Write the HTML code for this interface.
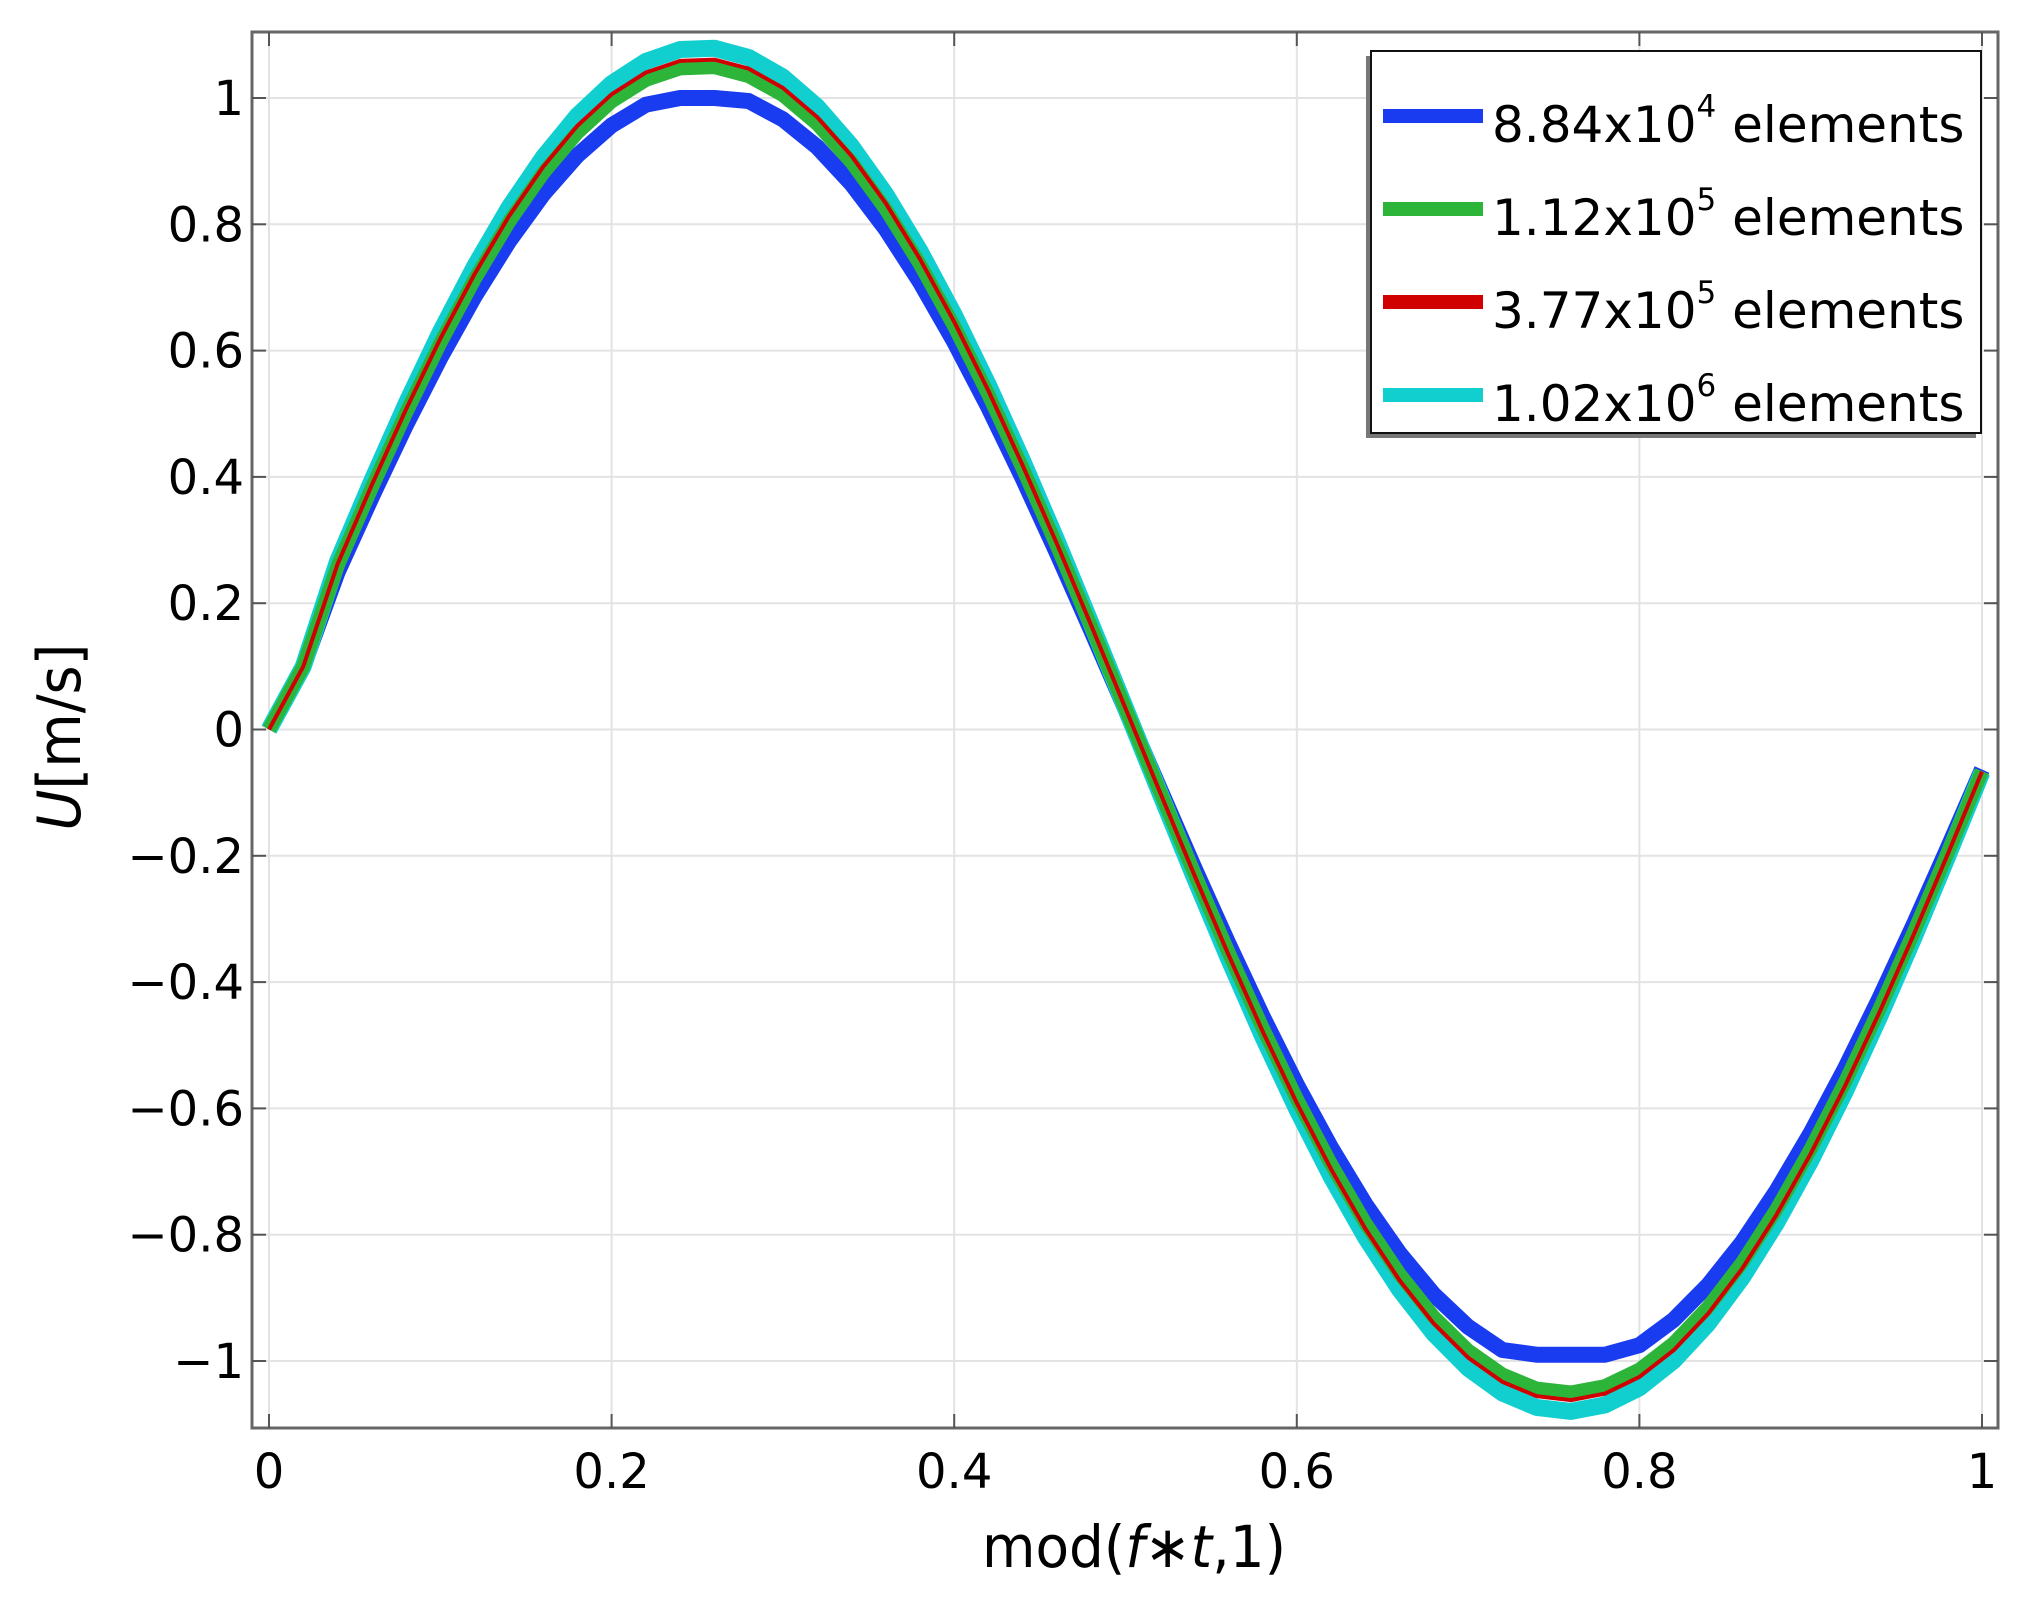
<!DOCTYPE html>
<html><head><meta charset="utf-8">
<style>
html,body{margin:0;padding:0;background:#fff;}
svg{display:block;font-family:"DejaVu Sans","Liberation Sans",sans-serif;}
</style></head>
<body>
<svg id="s" width="2038" height="1605" viewBox="0 0 2038 1605" xmlns="http://www.w3.org/2000/svg">
<rect width="2038" height="1605" fill="#fff"/>
<g id="grid" stroke="#e3e3e3" stroke-width="2"></g>
<g id="curves" fill="none" stroke-linejoin="round" stroke-linecap="butt"></g>
<rect x="252" y="32" width="1746" height="1396" fill="none" stroke="#666" stroke-width="3"/>
<g id="ticks" stroke="#555" stroke-width="2"></g>
<g id="labels" font-size="48" fill="#000"></g>
<text x="0" y="0" font-size="60" transform="translate(80,737) rotate(-90)" text-anchor="middle" textLength="187" lengthAdjust="spacingAndGlyphs"><tspan font-style="italic">U</tspan>[m/s]</text>
<text x="1134" y="1567" font-size="58" text-anchor="middle" textLength="304" lengthAdjust="spacingAndGlyphs">mod(<tspan font-style="italic">f</tspan>∗<tspan font-style="italic">t</tspan>,1)</text>
<!-- legend -->
<rect x="1366" y="56" width="610" height="382" fill="#777"/>
<rect x="1371" y="51" width="610" height="382" fill="#fff" stroke="#111" stroke-width="2"/>
<g stroke-width="14">
<line x1="1383" y1="116" x2="1483" y2="116" stroke="#1a3cf0"/>
<line x1="1383" y1="209" x2="1483" y2="209" stroke="#2db53a"/>
<line x1="1383" y1="302" x2="1483" y2="302" stroke="#d00000"/>
<line x1="1383" y1="395" x2="1483" y2="395" stroke="#12cfcf"/>
</g>
<g font-size="50" fill="#000">
<text x="1492" y="142">8.84x10<tspan font-size="31" dy="-25">4</tspan><tspan dy="25"> elements</tspan></text>
<text x="1492" y="235">1.12x10<tspan font-size="31" dy="-25">5</tspan><tspan dy="25"> elements</tspan></text>
<text x="1492" y="328">3.77x10<tspan font-size="31" dy="-25">5</tspan><tspan dy="25"> elements</tspan></text>
<text x="1492" y="421">1.02x10<tspan font-size="31" dy="-25">6</tspan><tspan dy="25"> elements</tspan></text>
</g>
</svg>
<script>
(function(){
var NS="http://www.w3.org/2000/svg";
function X(v){return 269+v*1713;}
function Y(v){return 729.5-631.5*v;}
function el(p,t,a,txt){var e=document.createElementNS(NS,t);for(var k in a)e.setAttribute(k,a[k]);if(txt!=null)e.textContent=txt;document.getElementById(p).appendChild(e);return e;}
var xs=[0,0.2,0.4,0.6,0.8,1],xl=["0","0.2","0.4","0.6","0.8","1"];
for(var i=0;i<xs.length;i++){
 el("grid","line",{x1:X(xs[i]),x2:X(xs[i]),y1:33,y2:1427});
 el("ticks","line",{x1:X(xs[i]),x2:X(xs[i]),y1:1428,y2:1414});
 el("ticks","line",{x1:X(xs[i]),x2:X(xs[i]),y1:32,y2:46});
 el("labels","text",{x:X(xs[i]),y:1488,"text-anchor":"middle"},xl[i]);
}
for(var k=-5;k<=5;k++){
 var v=k/5,y=Y(v);
 el("grid","line",{x1:253,x2:1997,y1:y,y2:y});
 el("ticks","line",{x1:252,x2:266,y1:y,y2:y});
 el("ticks","line",{x1:1998,x2:1984,y1:y,y2:y});
 var s=(v===0)?"0":(v<0?"−":"")+(Math.abs(v)===1?"1":Math.abs(v).toFixed(1));
 el("labels","text",{x:244,y:y+17,"text-anchor":"end"},s);
}
function path(A,lo,hi,col,w){
 var d="";
 for(var i=0;i<=50;i++){var x=i*0.02;var v=A*Math.sin(2*Math.PI*x*0.99);
  if(i===1)v=0.1;
  if(hi!=null)v=Math.min(v,hi);if(lo!=null)v=Math.max(v,lo);
  d+=(i?"L":"M")+X(x).toFixed(1)+" "+Y(v).toFixed(1);}
 el("curves","path",{d:d,stroke:col,"stroke-width":w});
}
path(1.01,-0.99,1.0,"#1a3cf0",16);
path(1.08,null,null,"#12cfcf",17);
path(1.05,null,null,"#2db53a",14);
path(1.062,null,null,"#d00000",4);
})();
</script>
</body></html>
